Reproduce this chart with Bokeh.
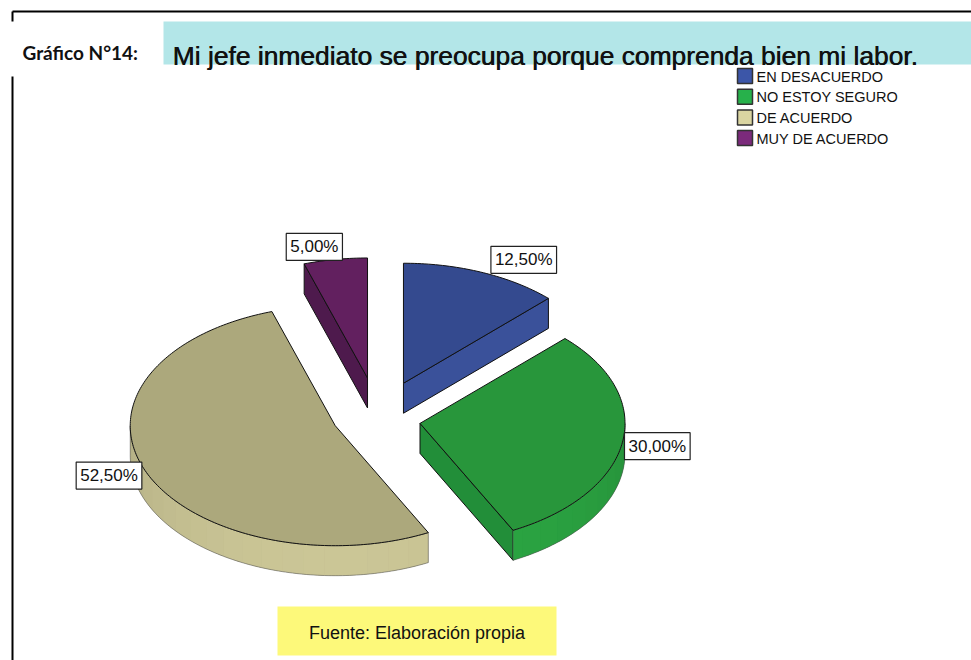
import numpy as np
from bokeh.plotting import figure
from bokeh.models import Range1d, Label
from bokeh.core.properties import value
from bokeh.embed import file_html
from bokeh.resources import INLINE

# ---- data ----
categories = ["EN DESACUERDO", "NO ESTOY SEGURO", "DE ACUERDO", "MUY DE ACUERDO"]
percentages = [12.5, 30.0, 52.5, 5.0]
pct_labels = ["12,50%", "30,00%", "52,50%", "5,00%"]

# ---- style ----
top_colors = ["#344a8f", "#28963b", "#aca87c", "#62205f"]
side_colors = ["#3a519a", "#228e39", "#c4c08f", "#4e1a4d"]
rim_colors = ["#3a519a", "#2ba542", "#cbc696", "#4e1a4d"]
legend_colors = ["#3c56a8", "#27b14b", "#dad5a1", "#7b2a7b"]
explode = [(60, 36), (40, 44), (49, 24), (83, 39)]      # px pull of each slice (x, y)
label_nudge = [(0, -3), (-7, -2), (3, -2), (14, -3)]    # px nudges of the value boxes
title_text = "Mi jefe inmediato se preocupa porque comprenda bien mi labor."
chart_label = "Gráfico N°14:"
source_text = "Fuente: Elaboración propia"

W, H = 971, 660
p = figure(width=W, height=H, x_range=Range1d(0, W), y_range=Range1d(H, 0),
           output_backend="svg", toolbar_location=None, min_border=0,
           x_axis_location=None, y_axis_location=None)
p.grid.visible = False
p.outline_line_color = None
p.background_fill_color = "white"
p.border_fill_color = "white"

# frame lines
p.line([12, 971], [11, 11], line_width=2, line_color="black")
p.line([12, 12], [11, 21], line_width=2, line_color="black")
p.line([12, 12], [76, 660], line_width=2, line_color="black")

# title
p.quad(left=[163], right=[971], top=[21], bottom=[64], fill_color="#b3e6e8", line_color=None)
for dx in (0.0, 0.6):
    p.text(x=[172 + dx], y=[55], text=[title_text], text_baseline="alphabetic", text_align="left",
           text_font_size="26.4px", text_font=value("Liberation Sans"), text_color="#111111")
p.text(x=[22], y=[52], text=[chart_label], text_baseline="alphabetic", text_align="left",
       text_font_size="19px", text_font=value("Lato"), text_font_style="bold", text_color="#111111")


def shade(hexcol, f):
    h = hexcol.lstrip("#")
    r, g, b = (int(h[k:k + 2], 16) for k in (0, 2, 4))
    return "#%02x%02x%02x" % tuple(max(0, min(255, int(round(c * f)))) for c in (r, g, b))


# ---- pie geometry ----
cx, cy = 380.0, 416.0
R, Ry = 205.0, 120.0
depth = 30.0
deg = np.pi / 180.0

angles = np.array(percentages) / 100.0 * 360.0
starts = 90.0 - np.concatenate([[0.0], np.cumsum(angles)[:-1]])
ends = starts - angles
mids = (starts + ends) / 2.0

order = np.argsort(-np.sin(mids * deg))
anchors = {}
for i in order:
    a0, a1, m = starts[i], ends[i], mids[i]
    ex, ey = explode[i]
    ax = cx + ex * np.cos(m * deg)
    ay = cy - ey * np.sin(m * deg)
    n = max(int(round(abs(a0 - a1))), 2) + 1
    th = np.linspace(a0, a1, n) * deg
    px = ax + R * np.cos(th)
    py = ay - Ry * np.sin(th)
    # radial faces
    for a, sgn in ((a0, 1), (a1, -1)):
        if np.sin((a + sgn * 90) * deg) < -1e-9:
            exx = ax + R * np.cos(a * deg)
            eyy = ay - Ry * np.sin(a * deg)
            p.patch([ax, exx, exx, ax], [ay, eyy, eyy + depth, ay + depth],
                    fill_color=side_colors[i], line_color="#111111", line_width=1)
    # outer side, shaded bands
    front = np.sin(th) < 1e-9
    idx = np.where(front)[0]
    if len(idx) > 1:
        runs = np.split(idx, np.where(np.diff(idx) != 1)[0] + 1)
        for r in runs:
            if len(r) < 2:
                continue
            sx = np.concatenate([px[r], px[r][::-1]])
            sy = np.concatenate([py[r], py[r][::-1] + depth])
            p.patch(sx, sy, fill_color=shade(rim_colors[i], 0.95), line_color=None)
            xs, ys, cols = [], [], []
            step = 6
            for k in range(0, len(r) - 1, step):
                seg = r[k:k + step + 1]
                xs.append(list(px[seg]) + list(px[seg][::-1]))
                ys.append(list(py[seg]) + list(py[seg][::-1] + depth))
                tm = th[seg].mean()
                f = 0.88 + 0.12 * (-np.sin(tm))
                cols.append(shade(rim_colors[i], f))
            p.patches(xs, ys, fill_color=cols, line_color=None)
            p.patch(sx, sy, fill_color=None, line_color="#555555", line_alpha=0.7, line_width=0.8)
    # top face
    p.patch(np.concatenate([[ax], px]), np.concatenate([[ay], py]),
            fill_color=top_colors[i], line_color="#111111", line_width=1)
    anchors[i] = (ax + R * np.cos(m * deg), ay - Ry * np.sin(m * deg), np.cos(m * deg), np.sin(m * deg))

# labels
pad = 4
for i in range(len(percentages)):
    lx, ly, c, s = anchors[i]
    nx, ny = label_nudge[i]
    lab = Label(x=lx, y=ly, text=pct_labels[i],
                text_align="left" if c > 0 else "right",
                text_baseline="bottom" if s > 0.5 else "middle",
                x_offset=((pad + 5) if c > 0 else -(pad + 3)) + nx,
                y_offset=((pad - 2) if s > 0.5 else -2) + ny,
                text_font="Liberation Sans", text_font_size="17px", text_color="#111111",
                background_fill_color="white", border_line_color="#222222", border_line_width=1.2,
                padding=pad)
    p.add_layout(lab)

# legend
for i, cat in enumerate(categories):
    yt = 68 + i * 20.7
    p.quad(left=[737], right=[752], top=[yt], bottom=[yt + 15], fill_color=legend_colors[i],
           line_color="#333333", line_width=1.5)
    p.text(x=[756], y=[yt + 8], text=[cat], text_baseline="middle", text_align="left",
           text_font_size="14.5px", text_font=value("Liberation Sans"), text_color="#111111")

# source box
p.quad(left=[277], right=[556], top=[606], bottom=[655], fill_color="#fdf97a", line_color=None)
p.text(x=[416.5], y=[632], text=[source_text], text_baseline="middle", text_align="center",
       text_font_size="18px", text_font=value("Liberation Sans"), text_color="#111111")

open("out.html", "w").write(file_html(p, INLINE))
